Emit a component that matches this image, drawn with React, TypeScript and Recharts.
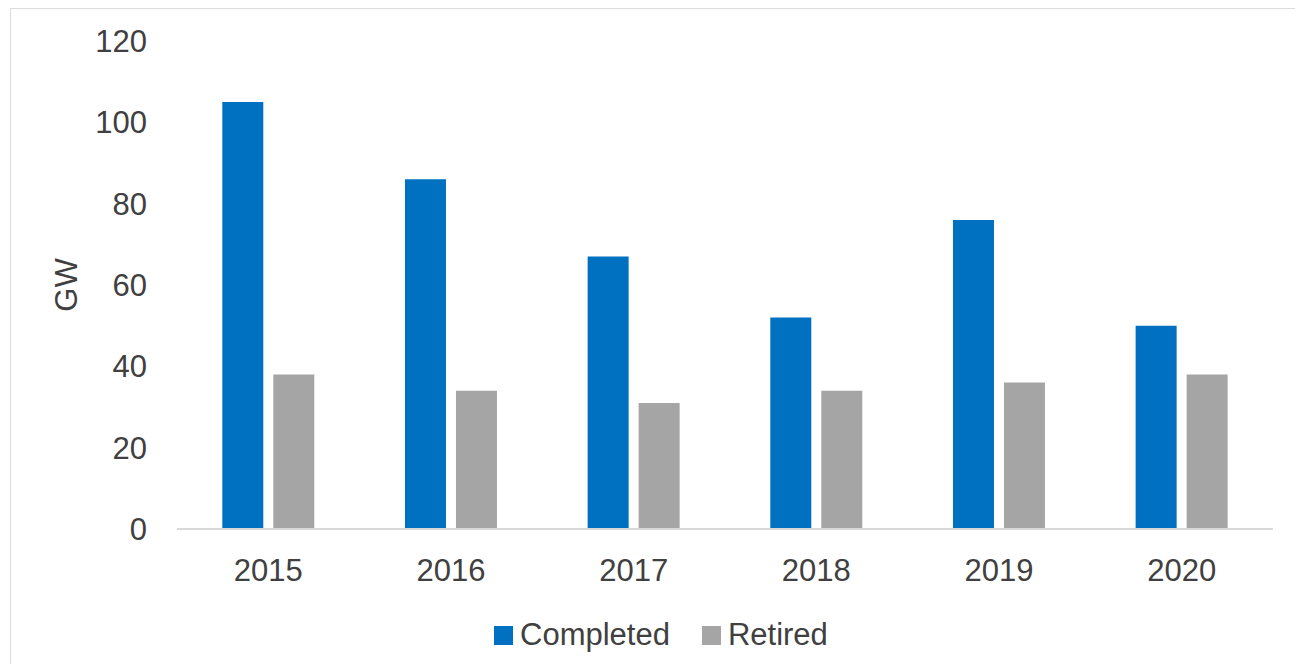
import React from 'react';
import { BarChart, Bar, XAxis, YAxis, Legend } from 'recharts';

const years = ['2015', '2016', '2017', '2018', '2019', '2020'];
const completed = [105, 86, 67, 52, 76, 50];
const retired = [38, 34, 31, 34, 36, 38];
const yTicks = [0, 20, 40, 60, 80, 100, 120];

const data = years.map((year, i) => ({ year, completed: completed[i], retired: retired[i] }));

const FONT = '"Liberation Sans", Arial, sans-serif';
const TEXT = '#404040';

const LegendContent = ({ payload }: any) => (
  <div style={{ display: 'flex', alignItems: 'center', fontFamily: FONT, fontSize: 31, color: TEXT, height: 34 }}>
    {(payload || []).map((entry: any, i: number) => (
      <div key={i} style={{ display: 'flex', alignItems: 'center', marginRight: 32 }}>
        <span style={{ width: 19, height: 19, background: entry.color, display: 'inline-block', marginRight: 7 }} />
        <span>{entry.value}</span>
      </div>
    ))}
  </div>
);

export default function App() {
  return (
    <div style={{ position: 'relative', width: 1295, height: 656 }}>
      <div
        style={{
          position: 'absolute',
          left: 2,
          top: 0,
          width: 1400,
          height: 800,
          borderTop: '1px solid #dcdcdc',
          borderLeft: '1px solid #dcdcdc',
        }}
      />
      <div style={{ position: 'absolute', left: 0, top: 0 }}>
        <BarChart
          width={1287}
          height={648}
          data={data}
          margin={{ top: 33, right: 22, bottom: 63, left: 0 }}
          barGap={10}
          barCategoryGap="24.8%"
        >
          <XAxis
            dataKey="year"
            height={30}
            axisLine={{ stroke: '#d9d9d9', strokeWidth: 2 }}
            tickLine={false}
            tickSize={0}
            tickMargin={30}
            tick={{ fill: TEXT, fontSize: 31, fontFamily: FONT }}
          />
          <YAxis
            width={169}
            domain={[0, 120]}
            ticks={yTicks}
            axisLine={false}
            tickLine={false}
            tickSize={0}
            tickMargin={30}
            tick={{ fill: TEXT, fontSize: 31, fontFamily: FONT }}
            label={{
              value: 'GW',
              angle: -90,
              position: 'center',
              dx: -27,
              style: { fill: TEXT, fontSize: 31, fontFamily: FONT },
            }}
          />
          <Legend
            content={<LegendContent />}
            wrapperStyle={{ left: 486, top: 610, width: 'auto' }}
          />
          <Bar dataKey="completed" name="Completed" fill="#0070C0" isAnimationActive={false} />
          <Bar dataKey="retired" name="Retired" fill="#A5A5A5" isAnimationActive={false} />
        </BarChart>
      </div>
    </div>
  );
}
